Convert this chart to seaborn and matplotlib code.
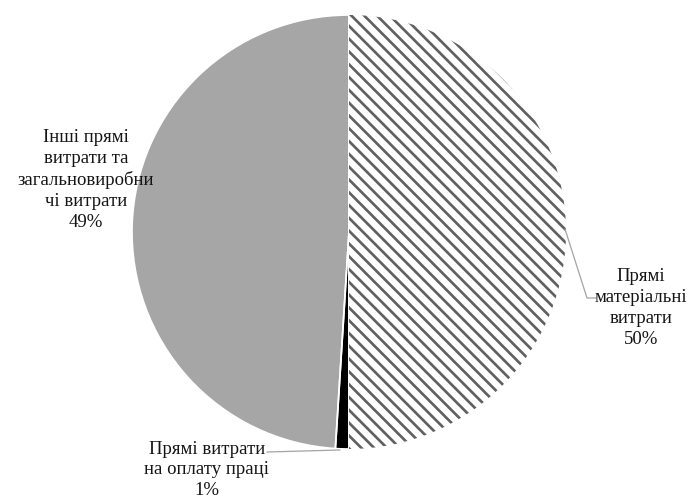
import matplotlib
matplotlib.use("Agg")
import matplotlib.pyplot as plt
import numpy as np
import seaborn as sns
from matplotlib.collections import LineCollection

categories = [
    "Прямі\nматеріальні\nвитрати",
    "Прямі витрати\nна оплату праці",
    "Інші прямі\nвитрати та\nзагальновиробни\nчі витрати",
]
shares = [50, 1, 49]

sns.set_theme(style="white")
plt.rcParams["font.family"] = ["Liberation Serif", "DejaVu Serif"]

W, H, DPI = 693, 498, 77
fig = plt.figure(figsize=(W / DPI, H / DPI), dpi=DPI)
ax = fig.add_axes([0, 0, 1, 1])

cx, cy, r = 349, H - 232, 217
colors = ["white", "black", "#a6a6a6"]

wedges, _ = ax.pie(
    shares, colors=colors, startangle=90, counterclock=False,
    center=(cx, cy), radius=r, frame=True,
    wedgeprops=dict(linewidth=0),
)

# diagonal stripe fill for the first slice, clipped to its wedge
step = 12.8
offsets = np.arange(cx + cy - 2 * r, cx + cy + 2 * r, step)
segs = [[(c - (cy + r + 10), cy + r + 10), (c - (cy - r - 10), cy - r - 10)]
        for c in offsets]
stripes = LineCollection(segs, colors="#606060", linewidths=2.5,
                         capstyle="butt")
ax.add_collection(stripes)
stripes.set_clip_path(wedges[0])

# white separators between the slices
ax.pie(
    shares, colors=["none"] * len(shares), startangle=90, counterclock=False,
    center=(cx, cy), radius=r, frame=True,
    wedgeprops=dict(edgecolor="white", linewidth=1.6, facecolor="none"),
)

ax.set_xlim(0, W)
ax.set_ylim(0, H)
ax.set_aspect("equal")
ax.axis("off")

fs = 17.5
ls = 1.3
txt = "#141414"
lbl = [f"{c}\n{v}%" for c, v in zip(categories, shares)]

ax.text(641, H - 308, lbl[0], ha="center", va="center", fontsize=fs,
        linespacing=ls, color=txt)
ax.text(86, H - 180, lbl[2], ha="center", va="center", fontsize=fs,
        linespacing=ls, color=txt)
ax.text(207, H - 470, lbl[1], ha="center", va="center", fontsize=fs,
        linespacing=ls, color=txt)

# leader lines
ax.plot([565, 587, 596], [H - 229, H - 298, H - 298], color="#a6a6a6", lw=1.2)
ax.plot([267, 340], [H - 452, H - 450], color="#a6a6a6", lw=1.2)

fig.savefig("out.png", dpi=DPI, facecolor="white")
